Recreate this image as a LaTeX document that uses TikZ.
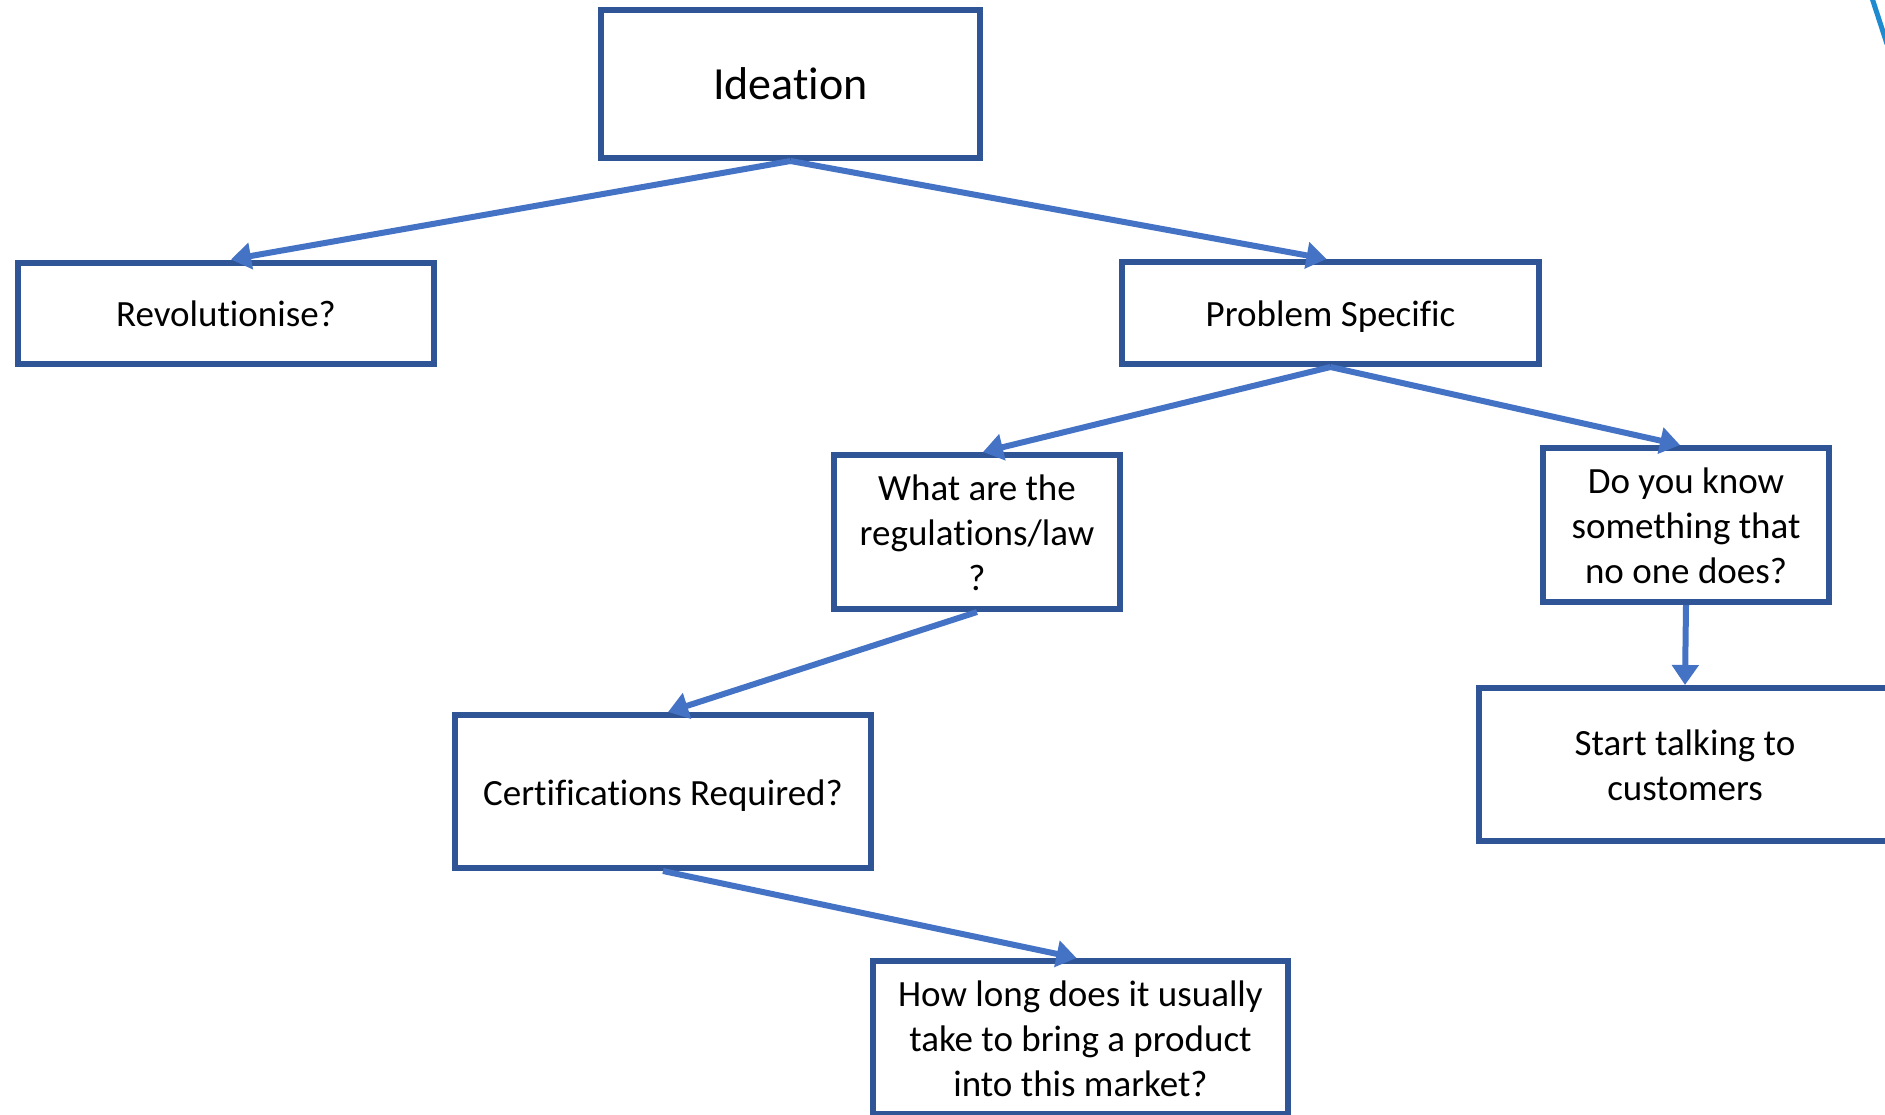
\documentclass[tikz,border=0pt]{standalone}
\usepackage{fontspec}
\setmainfont{Carlito}[Ligatures={NoCommon}]
\usetikzlibrary{arrows.meta}
\definecolor{boxedge}{HTML}{2F5597}
\definecolor{arrowblue}{HTML}{4472C4}
\definecolor{edgeblue}{HTML}{1E8AD0}
\newcommand\lnstrut{\rule[-8pt]{0pt}{43pt}}
\tikzset{
  box/.style={draw=boxedge, line width=6pt, fill=white, inner sep=0pt, align=center,
    font=\fontsize{37}{45}\selectfont, text=black},
  link/.style={draw=arrowblue, line width=6pt, -{Triangle[length=20pt,width=26pt]}},
}
\begin{document}
\begin{tikzpicture}[x=1pt,y=-1pt]
\useasboundingbox (0,0) rectangle (1885,1114);
\fill[white] (0,0) rectangle (1885,1114);
\node[box, minimum width=379pt, minimum height=148pt, font=\fontsize{46}{55}\selectfont] (ideation) at (790.5,84) {Ideation};
\node[box, minimum width=416pt, minimum height=101pt] (revol) at (226,313) {\lnstrut Revolutionise?};
\node[box, minimum width=417pt, minimum height=102pt] (prob) at (1330.5,313) {\lnstrut Problem Specific};
\node[box, minimum width=286pt, minimum height=154pt] (regs) at (977,532) {\lnstrut What are the\\\lnstrut regulations/law\\\lnstrut ?};
\node[box, minimum width=286pt, minimum height=154pt] (know) at (1686,525) {\lnstrut Do you know\\\lnstrut something that\\\lnstrut no one does?};
\node[box, minimum width=412pt, minimum height=153pt] (start) at (1685,764.5) {\lnstrut Start talking to\\\lnstrut customers};
\node[box, minimum width=416pt, minimum height=153pt] (cert) at (663,791.5) {\lnstrut Certifications Required?};
\node[box, minimum width=415pt, minimum height=153pt] (howlong) at (1080.5,1037.5) {\lnstrut How long does it usually\\\lnstrut take to bring a product\\\lnstrut into this market?};
\draw[link] (ideation.south) -- ([xshift=5pt]revol.north);
\draw[link] (ideation.south) -- ([xshift=-4pt]prob.north);
\draw[link] (prob.south) -- ([xshift=6pt]regs.north);
\draw[link] (prob.south) -- ([xshift=-6pt]know.north);
\draw[link] (regs.south) -- ([xshift=5pt]cert.north);
\draw[link] (cert.south) -- ([xshift=-4pt]howlong.north);
\draw[link] (know.south) -- (start.north);
\coordinate (edgeA) at (1872,-2);
\coordinate (edgeB) at (1887,44);
\draw[edgeblue, line width=5pt] (edgeA) -- (edgeB);
\end{tikzpicture}
\end{document}
